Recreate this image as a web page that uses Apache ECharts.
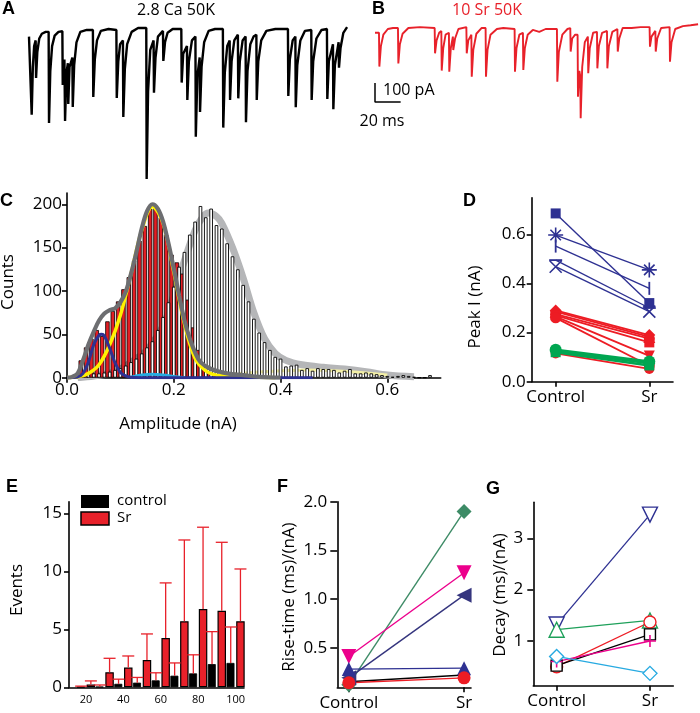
<!DOCTYPE html>
<html><head><meta charset="utf-8">
<script src="https://cdn.jsdelivr.net/npm/echarts@6/dist/echarts.min.js"></script>
<style>html,body{margin:0;padding:0;background:#fff}#c{width:700px;height:713px}</style>
</head><body><div id="c"></div>
<script>
// ---------- Panel A / B : example traces (time in ms, current in pA relative to baseline) ----------
const traceA = [[0,-40],[1.5,-35],[2.1,-451],[3,-200],[4,-90],[5.2,-60],[5.5,-258],[6.5,-120],[8,-50],[10,-25],[13,-15],[15.3,-15],[15.6,-495],[16.6,-220],[18,-90],[20,-35],[23,-15],[26,-12],[26.3,-295],[27.6,-160],[28.1,-484],[29.2,-230],[30.3,-180],[30.6,-395],[31.6,-200],[33.8,-150],[34.1,-410],[35.2,-190],[37,-70],[40,-15],[45,-5],[49.8,-5],[50.1,-358],[51.3,-160],[53,-60],[56,-10],[62,0],[68.1,-5],[68.4,-363],[69.6,-170],[71,-80],[73.2,-60],[73.5,-463],[74.7,-210],[76.5,-80],[80,-15],[85,5],[91.4,5],[91.7,-789],[92.8,-330],[94.5,-110],[97.1,-60],[97.4,-335],[98.6,-150],[100.5,-40],[104.4,-10],[104.7,-168],[106,-70],[108,-20],[112,0],[118.7,0],[119,-282],[120.2,-130],[123.1,-90],[123.4,-374],[124.6,-170],[127,-60],[129.7,-40],[130,-567],[131.2,-250],[133,-150],[133.3,-437],[134.5,-200],[136.5,-70],[140,-10],[145,0],[151.1,0],[151.4,-519],[152.6,-230],[154.5,-90],[156.4,-60],[156.7,-374],[157.9,-170],[160,-60],[162.8,-30],[163.1,-365],[164.3,-170],[166.5,-60],[168.8,-40],[169.1,-491],[170.3,-220],[172.5,-80],[175,-40],[177.2,-30],[177.5,-374],[178.7,-170],[181,-60],[185,-10],[192,0],[201.8,0],[202.1,-353],[203.3,-160],[205.5,-60],[207.6,-40],[207.9,-412],[209.1,-190],[211.5,-60],[215,-10],[220,-5],[220.3,-374],[221.5,-170],[224,-50],[228,-5],[232.2,0],[232.5,-368],[233.7,-170],[236.9,-80],[237.2,-422],[238.4,-190],[241.3,-70],[241.6,-204],[242.8,-100],[245,-20],[247.9,10]];
const traceB = [[0,-20],[3.1,-20],[3.4,-198],[4.6,-90],[6.5,-30],[10,0],[14,5],[17.9,5],[18.2,-181],[19.4,-80],[21.5,-25],[26,5],[35,10],[46.5,5],[46.8,-128],[48,-60],[50,-20],[51.7,-10],[52,-219],[53.2,-100],[55,-30],[57.6,-20],[57.9,-225],[59.1,-100],[60.7,-40],[61,-111],[62.4,-50],[65,0],[71.2,10],[71.5,-128],[72.7,-60],[75.1,-30],[75.4,-251],[76.6,-110],[79,-25],[83,5],[86.2,5],[86.5,-251],[87.7,-110],[90,-30],[95,0],[100,5],[108.8,0],[109.1,-225],[110.3,-100],[112.5,-30],[115.3,-20],[115.6,-216],[116.8,-100],[119,-30],[123,-5],[128,-15],[133,0],[141.8,0],[142.1,-277],[143.3,-120],[146,-30],[150,0],[152.2,5],[152.5,-119],[153.7,-50],[156,-30],[157.9,-30],[158.2,-356],[159.3,-220],[160,-250],[160.3,-470],[161.5,-200],[163.5,-70],[165.9,-40],[166.2,-233],[167.4,-100],[170,-20],[173,-15],[173.3,-207],[174.5,-90],[177,-20],[180.8,-10],[181.1,-207],[182.3,-90],[185,-15],[188.9,0],[189.2,-119],[190.4,-50],[193,5],[200,5],[207,10],[214,10],[214.3,-93],[215.5,-40],[218.5,-10],[218.8,-119],[220,-50],[223,5],[229.6,10],[229.9,-172],[231.1,-70],[234,0],[240,15],[246,20],[251.8,25]];
const scaleBarT = [0, 0, 20];        // ms
const scaleBarI = [-284, -384, -384]; // pA  (100 pA / 20 ms)

// ---------- Panel C : amplitude histograms (nA, counts) ----------
const ctlBins = [0.01,0.02,0.03,0.04,0.05,0.06,0.07,0.08,0.09,0.10,0.11,0.12,0.13,0.14,0.15,0.16,0.17,0.18,0.19,0.20,0.21,0.22,0.23,0.24,0.25,0.26,0.27,0.28,0.29,0.30,0.31,0.32,0.33,0.34,0.35,0.36,0.37,0.38,0.39,0.40,0.41,0.42,0.43,0.44,0.45,0.46,0.47,0.48,0.49,0.50,0.51,0.52,0.53,0.54,0.55,0.56,0.57,0.58,0.59,0.60,0.61,0.62,0.63,0.64,0.65,0.66,0.67,0.68];
const ctlCounts = [1,2,3,4,5,5,6,7,9,11,14,18,22,28,35,42,55,70,87,105,128,145,165,180,198,185,195,176,172,155,140,125,107,88,68,52,41,32,24,22,13,14,15,9,11,8,11,10,10,9,6,8,10,5,5,6,5,4,3,2,1,2,3,2,1,0,0,3];
const srBins = [0.015,0.025,0.035,0.045,0.055,0.065,0.075,0.085,0.095,0.105,0.115,0.125,0.135,0.145,0.155,0.165,0.175,0.185,0.195,0.205,0.215,0.225,0.235,0.245,0.255,0.265,0.275,0.285,0.295];
const srCounts = [3,20,35,45,55,48,65,77,88,102,116,135,158,175,195,196,185,165,142,133,120,90,58,32,12,6,3,2,1];
// fitted curves
const fitCtlX = [0.02,0.05,0.08,0.10,0.13,0.15,0.18,0.20,0.22,0.24,0.255,0.265,0.28,0.29,0.31,0.33,0.35,0.37,0.39,0.41,0.44,0.48,0.52,0.56,0.60,0.65];
const fitCtlY = [0,2,5,10,22,32,60,95,135,170,186,190,186,178,150,115,75,45,28,20,15,12,10,7,3,1];
const fitCtlTailX = [0.30,0.35,0.40,0.45,0.50,0.55,0.60];
const fitCtlTailY = [4,6,8,9,8,6,3];
const fitYellowX = [0.0,0.02,0.04,0.06,0.08,0.10,0.12,0.14,0.16,0.18,0.20,0.22,0.24,0.26,0.28,0.30,0.34,0.39];
const fitYellowY = [0,1,5,15,38,72,120,170,197,178,122,62,22,8,3,2,1,0];
const fitBlueX = [0.0,0.02,0.03,0.04,0.05,0.06,0.065,0.07,0.08,0.09,0.10,0.11,0.12,0.15,0.25,0.35,0.46];
const fitBlueY = [0,1,5,18,38,49,50,48,34,17,6,2,0.5,0,0,0,0];
const fitCyanX = [0.12,0.14,0.16,0.18,0.20,0.22];
const fitCyanY = [0.5,3,4,3,1.5,0];
const fitSrX = [0.0,0.01,0.02,0.03,0.04,0.05,0.06,0.07,0.08,0.09,0.10,0.11,0.12,0.13,0.14,0.15,0.16,0.17,0.18,0.19,0.20,0.21,0.22,0.23,0.24,0.25,0.27,0.30,0.33,0.36,0.40];
const fitSrY = [0,1,5,20,38,53,66,74,78,80,87,99,120,145,172,192,200,195,180,155,126,95,66,45,29,18,10,5,3,1,0];

// ---------- Panel D : peak current (nA), Control -> Sr ----------
const dBlueCtl = [0.685, 0.597, 0.552, 0.495, 0.468];
const dBlueSr  = [0.320, 0.455, 0.380, 0.300, 0.285];
const dRedCtl  = [0.290, 0.285, 0.275, 0.270, 0.265, 0.260, 0.115];
const dRedSr   = [0.190, 0.182, 0.175, 0.160, 0.105, 0.065, 0.052];
const dGreenCtl = [0.130, 0.125, 0.120];
const dGreenSr  = [0.082, 0.075, 0.066];

// ---------- Panel E : events per amplitude bin ----------
const eBins   = [20, 30, 40, 50, 60, 70, 80, 90, 100];
const eTicks  = [20, 40, 60, 80, 100];
const eCtl    = [0.03, 0.05, 0.3, 0.4, 0.6, 1.0, 1.2, 2.0, 2.1];
const eCtlErr = [0.1, 0.2, 0.7, 0.85, 1.25, 2.1, 2.8, 4.8, 5.2];
const eSr     = [0.25, 1.3, 1.7, 2.35, 4.25, 5.7, 6.75, 6.6, 5.7];
const eSrErr  = [0.55, 2.5, 2.7, 4.6, 9.0, 12.7, 13.8, 12.5, 10.2];

// ---------- Panel F : rise-time (ms)/(nA) ----------
const fCtl = [0.12, 0.41, 0.19, 0.28, 0.15, 0.14];
const fSr  = [1.90, 1.27, 1.04, 0.29, 0.22, 0.19];

// ---------- Panel G : decay (ms)/(nA) ----------
const gCtl = [1.32, 1.22, 0.50, 0.52, 0.60, 0.70];
const gSr  = [3.46, 1.40, 1.37, 1.13, 1.00, 0.37];

// ====================================================================
const FONT = '"Open Sans", sans-serif';
const AXL = {color:'#000', width:1.6};
const zip = (xs, ys) => xs.map((x, i) => [x, ys[i]]);

function vAxis(pos, gridIndex, min, max, ticks, fmt, o) {
  o = o || {};
  return {
    type:'value', gridIndex, min, max, position:pos,
    splitLine:{show:false},
    axisLine:{show:true, onZero:false, lineStyle:AXL},
    axisTick:{show:o.tick !== false, length:o.tickLen || 5, lineStyle:AXL, customValues:ticks},
    axisLabel:{show:true, customValues:ticks, formatter:fmt, color:'#000', fontFamily:FONT,
               fontSize:o.fs || 17, margin:o.margin == null ? 6 : o.margin}
  };
}
function hidden(gridIndex, min, max) {
  return {type:'value', gridIndex, min, max, show:false, splitLine:{show:false}};
}
const ctlSrFmt = v => (v === 0 ? 'Control' : 'Sr');

const grids = [
  {left:29,  top:0,     width:320,   height:190},   // A
  {left:375, top:0,     width:325,   height:190},   // B
  {left:67,  top:193,   width:373.7, height:184.7}, // C
  {left:531.7, top:197.7, width:141.3, height:184}, // D
  {left:69,  top:501.7, width:175,   height:185.6}, // E
  {left:337.3, top:501.7, width:133.7, height:185.6}, // F
  {left:533.3, top:502.3, width:140,   height:183.4}  // G
].map(g => Object.assign({containLabel:false, outerBoundsMode:'none'}, g));

const xAxes = [
  hidden(0, 0, 249.4),
  hidden(1, 0, 253.3),
  vAxis('bottom', 2, 0, 0.7, [0,0.2,0.4,0.6], v => v.toFixed(1), {margin:4}),
  vAxis('bottom', 3, -0.256, 1.253, [0,1], ctlSrFmt, {margin:7}),
  vAxis('bottom', 4, 10.9, 104.5, eTicks, v => String(v), {fs:11, tick:false, margin:7}),
  vAxis('bottom', 5, -0.10, 1.06, [0,1], ctlSrFmt, {margin:7}),
  vAxis('bottom', 6, -0.25, 1.25, [0,1], ctlSrFmt, {margin:7})
];
const yAxes = [
  hidden(0, -847.4, 152.6),
  hidden(1, -847.4, 152.6),
  vAxis('left', 2, 0, 213, [0,50,100,150,200], v => String(v), {margin:5}),
  vAxis('left', 3, 0, 0.749, [0,0.2,0.4,0.6], v => v.toFixed(1), {margin:6}),
  vAxis('left', 4, 0, 16, [0,5,10,15], v => String(v), {margin:7}),
  vAxis('left', 5, 0.093, 2.0, [0.5,1.0,1.5,2.0], v => v.toFixed(1), {margin:10, tickLen:7}),
  vAxis('left', 6, 0.13, 3.70, [1,2,3], v => String(v), {margin:10, tickLen:6})
];

const series = [];
// traces
series.push({type:'line', xAxisIndex:0, yAxisIndex:0, data:traceA, symbol:'none',
  lineStyle:{color:'#000', width:2.4}});
series.push({type:'line', xAxisIndex:1, yAxisIndex:1, data:traceB, symbol:'none',
  lineStyle:{color:'#e8212a', width:1.9}});
series.push({type:'line', xAxisIndex:1, yAxisIndex:1, data:zip(scaleBarT, scaleBarI), symbol:'none',
  lineStyle:{color:'#000', width:1.5}});

// histogram C
function curve(xs, ys, color, width, opacity, z) {
  series.push({type:'line', xAxisIndex:2, yAxisIndex:2, data:zip(xs, ys), symbol:'none', smooth:0.35,
    lineStyle:{color, width, opacity: opacity == null ? 1 : opacity}, z:z || 5});
}
curve(fitCtlX, fitCtlY, '#b5b6b8', 7, 1, 1);
curve(fitCtlTailX, fitCtlTailY, '#f3efa6', 3, 1, 1);
series.push({type:'bar', xAxisIndex:2, yAxisIndex:2, data:zip(srBins, srCounts), barWidth:4.4, barGap:'-100%', z:2,
  itemStyle:{color:'#e31e24', borderColor:'#000', borderWidth:0.8}});
series.push({type:'bar', xAxisIndex:2, yAxisIndex:2, data:zip(ctlBins, ctlCounts), barWidth:3.6, barGap:'-100%', z:2,
  itemStyle:{color:'#fff', borderColor:'#000', borderWidth:0.9}});
curve(fitYellowX, fitYellowY, '#fff200', 3.5);
curve(fitCyanX, fitCyanY, '#27aae1', 3);
curve(fitBlueX, fitBlueY, '#2e3192', 3);
curve(fitSrX, fitSrY, '#6d6e71', 4.2);

// panel D
const P_AST = 'path://M5,0L5,10M0,5L10,5M1.5,1.5L8.5,8.5M8.5,1.5L1.5,8.5';
const P_X = 'path://M0,0L10,10M10,0L0,10';
const P_VBAR = 'path://M0,0L2,0L2,10L0,10Z';
const P_HBAR = 'path://M0,0L10,0L10,2L0,2Z';
const P_PLUS = 'path://M5,0L5,10M0,5L10,5';
function pair(ax, ctl, sr, color, lw, symbol, size, rotate, open, z) {
  const strokeSym = symbol === P_AST || symbol === P_X || symbol === P_PLUS;
  series.push({type:'line', xAxisIndex:ax, yAxisIndex:ax, data:[[0, ctl],[1, sr]],
    symbol, symbolSize:size, symbolRotate:rotate || 0, z:z || 3,
    lineStyle:{color, width:lw},
    itemStyle: open ? {color:'#fff', borderColor:color, borderWidth:1.4}
      : (strokeSym ? {color:color, borderColor:color, borderWidth:1.6} : {color:color, borderWidth:0})});
}
const BLUE = '#2e3192', RED = '#ed1c24', GREEN = '#00a651';
const dBlueSym = [['rect',10], [P_AST,15], [P_VBAR,[1.8,13]], [P_HBAR,[13,1.8]], [P_X,12]];
dBlueCtl.forEach((c, i) => pair(3, c, dBlueSr[i], BLUE, 1.4, dBlueSym[i][0], dBlueSym[i][1]));
const dRedSym = [['diamond',12,0],['triangle',12,0],['circle',11,0],['rect',10,0],['triangle',11,180],['circle',11,0],['circle',10,0]];
dRedCtl.forEach((c, i) => pair(3, c, dRedSr[i], RED, 1.8, dRedSym[i][0], dRedSym[i][1], dRedSym[i][2]));
const dGreenSym = [['circle',12],['diamond',12],['rect',10]];
dGreenCtl.forEach((c, i) => pair(3, c, dGreenSr[i], GREEN, 2.4, dGreenSym[i][0], dGreenSym[i][1], 0, false, 4));

// panel E
series.push({type:'bar', xAxisIndex:4, yAxisIndex:4, data:eBins.map((b, i) => [b - 2.6, eCtl[i]]), barWidth:8, barGap:'-100%',
  itemStyle:{color:'#000', borderColor:'#000', borderWidth:0.8}});
series.push({type:'bar', xAxisIndex:4, yAxisIndex:4, data:eBins.map((b, i) => [b + 2.6, eSr[i]]), barWidth:8.5, barGap:'-100%',
  itemStyle:{color:'#e8212a', borderColor:'#000', borderWidth:1.2}});
function errBars(data) {
  series.push({type:'custom', coordinateSystem:'cartesian2d', xAxisIndex:4, yAxisIndex:4, data, z:4,
    renderItem: (params, api) => {
      const p0 = api.coord([api.value(0), api.value(1)]);
      const p1 = api.coord([api.value(0), api.value(2)]);
      const st = {stroke:'#e8212a', lineWidth:1.3};
      return {type:'group', children:[
        {type:'line', shape:{x1:p0[0], y1:p0[1], x2:p1[0], y2:p1[1]}, style:st},
        {type:'line', shape:{x1:p1[0] - 6, y1:p1[1], x2:p1[0] + 6, y2:p1[1]}, style:st}
      ]};
    }});
}
errBars(eBins.map((b, i) => [b + 2.6, eSr[i], eSrErr[i]]));
errBars(eBins.map((b, i) => [b - 2.6, eCtl[i], eCtlErr[i]]));

// panel F
const fStyle = [['#3d8b66','diamond',15,0],['#ec008c','triangle',15,180],['#35357e','triangle',15,90],[BLUE,'triangle',14,0],['#000','none',1,0],[RED,'circle',13,0]];
fCtl.forEach((c, i) => pair(5, c, fSr[i], fStyle[i][0], 1.4, fStyle[i][1], fStyle[i][2], fStyle[i][3]));

// panel G
const gStyle = [[BLUE,'triangle',15,180],['#1ea05a','triangle',15,0],[RED,'circle',12,0],['#000','rect',11,0],['#ec008c',P_PLUS,12,0],['#27aae1','diamond',14,0]];
gCtl.forEach((c, i) => {
  const s = gStyle[i];
  pair(6, c, gSr[i], s[0], 1.3, s[1], s[2], s[3], s[1] !== P_PLUS);
});

// texts
function txt(t, x, y, o) {
  o = o || {};
  return {type:'text', x, y, rotation:o.rot || 0, z:10,
    style:{text:t, fill:o.color || '#000', fontFamily:o.ff || FONT, fontSize:o.fs || 17,
      fontWeight:o.fw || 'normal', align:o.align || 'center', verticalAlign:o.va || 'middle'}};
}
const L = {ff:'"Liberation Sans", Arial, sans-serif', fw:'bold', fs:18, align:'left'};
const graphic = [
  txt('A', 2, 9, L), txt('B', 372, 9, L), txt('C', 0, 201, L), txt('D', 463, 201, L),
  txt('E', 6, 487, L), txt('F', 277, 487, L), txt('G', 486, 489, L),
  txt('2.8 Ca 50K', 176, 10, {fs:16}),
  txt('10 Sr 50K', 487, 10, {fs:16, color:'#e8212a'}),
  txt('100 pA', 383, 90, {fs:16, align:'left'}),
  txt('20 ms', 382, 121, {fs:16}),
  txt('Counts', 8, 282, {rot:Math.PI/2}),
  txt('Amplitude (nA)', 178, 424),
  txt('Peak I (nA)', 475, 307, {rot:Math.PI/2}),
  txt('Events', 17, 590, {rot:Math.PI/2}),
  txt('Rise-time (ms)/(nA)', 289, 597, {rot:Math.PI/2}),
  txt('Decay (ms)/(nA)', 500, 595, {rot:Math.PI/2}),
  {type:'rect', shape:{x:81, y:495, width:28, height:13}, style:{fill:'#000'}, z:10},
  {type:'rect', shape:{x:81, y:512, width:28, height:13}, style:{fill:'#e8212a', stroke:'#000', lineWidth:1.5}, z:10},
  txt('control', 117, 501, {fs:15, align:'left'}),
  txt('Sr', 117, 518, {fs:15, align:'left'})
];

const chart = echarts.init(document.getElementById('c'), null, {renderer:'canvas'});
chart.setOption({
  animation:false, backgroundColor:'#fff',
  grid:grids, xAxis:xAxes, yAxis:yAxes, series, graphic
});
</script></body></html>
